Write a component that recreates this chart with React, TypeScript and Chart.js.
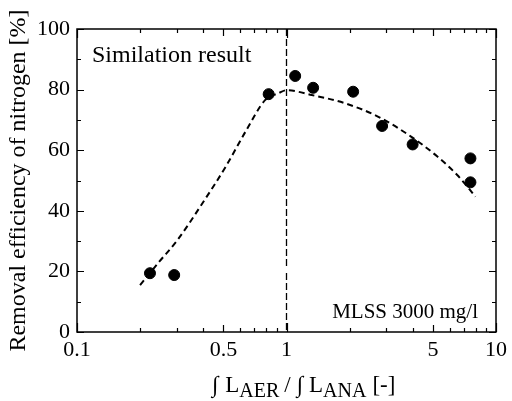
import React, { useEffect, useRef } from 'react';
import { Chart, registerables } from 'chart.js';

Chart.register(...registerables);

// measured points
const pointX = [0.223, 0.291, 0.822, 1.10, 1.34, 2.08, 2.86, 4.0, 7.55, 7.55];
const pointY = [19.4, 18.8, 78.5, 84.5, 80.6, 79.3, 68.0, 61.9, 57.3, 49.4];

// dashed model curve
const curveX = [0.2, 0.247, 0.302, 0.397, 0.513, 0.637, 0.792, 0.916, 1.0, 1.32, 1.9, 2.73, 3.93, 5.25, 6.53, 7.98];
const curveY = [15.5, 23.2, 30.4, 42.5, 54.6, 66.1, 76.6, 78.8, 79.8, 78.2, 75.5, 71.1, 64.5, 57.9, 51.8, 44.7];

// vertical reference line at x = 1 (with the small gap seen in the figure)
const refLineX = [1, 1, 1, 1, 1];
const refLineY = [100, 21.5, null, 19.5, 0];

const xTickValues = [0.1, 0.2, 0.3, 0.4, 0.5, 0.6, 0.7, 0.8, 0.9, 1, 2, 3, 4, 5, 6, 7, 8, 9, 10];
const xLabelValues = [0.1, 0.5, 1, 5, 10];
const xTickLabels = ['0.1', '0.5', '1', '5', '10'];
const xDecades = [0.1, 1, 10];
const yMajorValues = [0, 20, 40, 60, 80, 100];
const yMinorValues = [10, 30, 50, 70, 90];

const yTitle = 'Removal efficiency of nitrogen [%]';
const xTitleText = ['\u222B', 'L', 'AER', '/', '\u222B', 'L', 'ANA', '[-]'];
const xTitleSub = [false, false, true, false, false, false, true, false];
const noteTopLeft = 'Similation result';
const noteBottomRight = 'MLSS 3000 mg/l';

const serif = "'Liberation Serif', 'Times New Roman', serif";

const near = (a: number, b: number) => Math.abs(a - b) < 1e-9;

export default function App() {
  const ref = useRef<HTMLCanvasElement>(null);

  useEffect(() => {
    document.body.style.margin = '0';
    const canvas = ref.current!;

    const framePlugin = {
      id: 'frameTicks',
      afterDraw(chart: any) {
        const { ctx, chartArea: a, scales } = chart;
        const xs = scales.x;
        const ys = scales.y;
        ctx.save();
        ctx.strokeStyle = '#000';
        ctx.fillStyle = '#000';
        ctx.lineWidth = 1.5;
        ctx.strokeRect(a.left, a.top, a.right - a.left, a.bottom - a.top);
        ctx.lineWidth = 1.2;
        ctx.beginPath();
        for (const v of xTickValues) {
          const px = Math.round(xs.getPixelForValue(v)) + 0.5;
          const len = xDecades.some((d) => near(d, v)) ? 9 : xLabelValues.some((d) => near(d, v)) ? 7 : 4;
          ctx.moveTo(px, a.bottom);
          ctx.lineTo(px, a.bottom - len);
          ctx.moveTo(px, a.top);
          ctx.lineTo(px, a.top + len);
        }
        for (const v of yMajorValues) {
          const py = Math.round(ys.getPixelForValue(v)) + 0.5;
          ctx.moveTo(a.left, py);
          ctx.lineTo(a.left + 7, py);
          ctx.moveTo(a.right, py);
          ctx.lineTo(a.right - 7, py);
        }
        for (const v of yMinorValues) {
          const py = Math.round(ys.getPixelForValue(v)) + 0.5;
          ctx.moveTo(a.left, py);
          ctx.lineTo(a.left + 4, py);
          ctx.moveTo(a.right, py);
          ctx.lineTo(a.right - 4, py);
        }
        ctx.stroke();

        // annotations
        ctx.textBaseline = 'alphabetic';
        ctx.font = `24px ${serif}`;
        ctx.textAlign = 'left';
        ctx.fillText(noteTopLeft, a.left + 15, a.top + 33);
        ctx.font = `21px ${serif}`;
        ctx.textAlign = 'right';
        ctx.fillText(noteBottomRight, a.right - 18, a.bottom - 14);

        // x-axis title with subscripts
        const base = 392;
        const gaps = [0, 7, 0, 5, 6, 6, 0, 6];
        let cx = 212;
        ctx.textAlign = 'left';
        xTitleText.forEach((t, i) => {
          const sub = xTitleSub[i];
          ctx.font = sub ? `20px ${serif}` : `23px ${serif}`;
          cx += gaps[i];
          ctx.fillText(t, cx, sub ? base + 5 : base);
          cx += ctx.measureText(t).width;
        });
        ctx.restore();
      },
    };

    const chart = new Chart(canvas, {
      type: 'scatter',
      data: {
        datasets: [
          {
            type: 'line',
            data: curveX.map((x, i) => ({ x, y: curveY[i] })),
            borderColor: '#000',
            borderWidth: 2,
            borderDash: [6, 4],
            pointRadius: 0,
            fill: false,
            cubicInterpolationMode: 'monotone',
          },
          {
            type: 'line',
            data: refLineX.map((x, i) => ({ x, y: refLineY[i] })),
            borderColor: '#000',
            borderWidth: 1.3,
            borderDash: [7, 3],
            pointRadius: 0,
            fill: false,
            spanGaps: false,
          },
          {
            type: 'scatter',
            data: pointX.map((x, i) => ({ x, y: pointY[i] })),
            backgroundColor: '#000',
            borderColor: '#000',
            pointRadius: 5.5,
            pointStyle: 'circle',
          },
        ] as any,
      },
      options: {
        animation: false,
        responsive: false,
        events: [],
        layout: { padding: { top: 29, right: 13, left: 0, bottom: 0 } },
        plugins: { legend: { display: false }, tooltip: { enabled: false } },
        scales: {
          x: {
            type: 'logarithmic',
            min: 0.1,
            max: 10,
            grid: { display: false, drawTicks: false },
            border: { display: false },
            afterBuildTicks: (s: any) => {
              s.ticks = xTickValues.map((v) => ({ value: v }));
            },
            afterFit: (s: any) => {
              s.height = 69;
            },
            ticks: {
              autoSkip: false,
              maxRotation: 0,
              minRotation: 0,
              padding: 5,
              color: '#000',
              font: { family: serif, size: 22 },
              callback: (v: any) => {
                const i = xLabelValues.findIndex((d) => near(d, Number(v)));
                return i >= 0 ? xTickLabels[i] : '';
              },
            },
          },
          y: {
            type: 'linear',
            min: 0,
            max: 100,
            grid: { display: false, drawTicks: false },
            border: { display: false },
            afterBuildTicks: (s: any) => {
              s.ticks = yMajorValues.map((v) => ({ value: v }));
            },
            afterFit: (s: any) => {
              s.width = 77;
            },
            ticks: {
              padding: 7,
              color: '#000',
              font: { family: serif, size: 22 },
            },
            title: {
              display: true,
              text: yTitle,
              color: '#000',
              font: { family: serif, size: 24 },
              padding: { top: 4, bottom: 0 },
            },
          },
        },
      } as any,
      plugins: [framePlugin],
    });
    return () => chart.destroy();
  }, []);

  return <canvas ref={ref} width={512} height={401} style={{ display: 'block' }} />;
}
